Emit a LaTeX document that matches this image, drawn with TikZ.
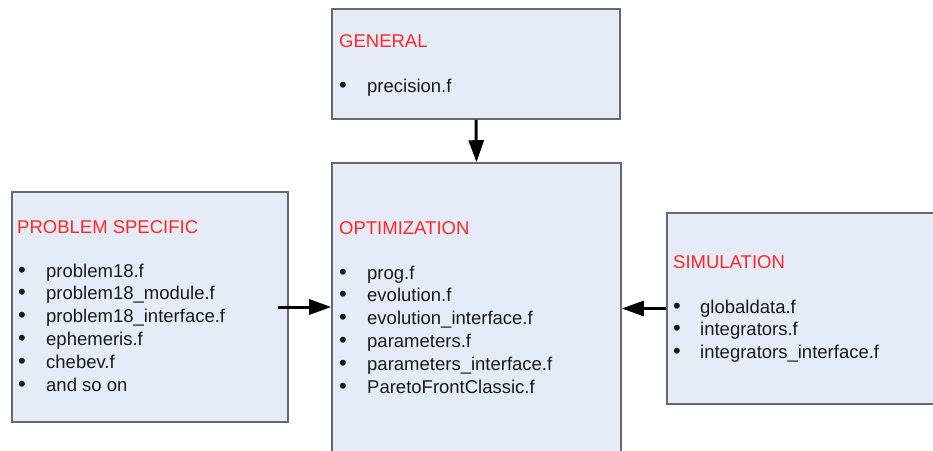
\documentclass[tikz,border=0pt]{standalone}
\usepackage{fontspec}
\setmainfont{Liberation Sans}
\usetikzlibrary{arrows.meta,positioning,calc}
\definecolor{boxfill}{RGB}{230,236,247}
\definecolor{boxline}{RGB}{105,105,105}
\definecolor{titlered}{RGB}{255,40,40}
\definecolor{itemgray}{RGB}{25,25,25}

\begin{document}
\begin{tikzpicture}[
    x=1pt, y=1pt,
    font=\fontsize{18.5}{22}\selectfont,
    box/.style={
      rectangle, draw=boxline, fill=boxfill,
      line width=1.6pt, inner sep=0pt
    },
    title/.style={text=titlered, anchor=base west, inner sep=0pt},
    item/.style={text=itemgray, anchor=base west, inner sep=0pt},
    dot/.style={item, font=\fontsize{22}{22}\selectfont},
    arr/.style={-{Triangle[length=22pt,width=15pt]}, line width=3pt, black},
  ]
    \clip (0,0) rectangle (933,-450);

    % boxes
    \node[box, minimum width=288pt, minimum height=110pt] (gen)  at (476,-64)   {};
    \node[box, minimum width=289pt, minimum height=310pt] (opt)  at (476.5,-318) {};
    \node[box, minimum width=276pt, minimum height=230pt] (prob) at (150,-307)  {};
    \node[box, minimum width=290pt, minimum height=191pt] (sim)  at (812,-308.5) {};

    % titles
    \node[title] (genT)  at (339,-47)  {GENERAL};
    \node[title] (optT)  at (339,-234) {OPTIMIZATION};
    \node[title] (probT) at (17,-233)  {PROBLEM SPECIFIC};
    \node[title] (simT)  at (673,-268) {SIMULATION};

    % file lists
    \node[dot]  (genB) at (339,-92) {\textbullet};
    \node[item] (genI) at (367,-92) {precision.f};

    \foreach \t [count=\i] in {prog.f, evolution.f, evolution\_interface.f,
        parameters.f, parameters\_interface.f, ParetoFrontClassic.f}{
      \node[dot]  (optB\i) at (339,-279-22.8*\i+22.8) {\textbullet};
      \node[item] (optI\i) at (367,-279-22.8*\i+22.8) {\t};
    }
    \foreach \t [count=\i] in {problem18.f, problem18\_module.f, problem18\_interface.f,
        ephemeris.f, chebev.f, and so on}{
      \node[dot]  (probB\i) at (18,-277-22.8*\i+22.8) {\textbullet};
      \node[item] (probI\i) at (46,-277-22.8*\i+22.8) {\t};
    }
    \foreach \t [count=\i] in {globaldata.f, integrators.f, integrators\_interface.f}{
      \node[dot]  (simB\i) at (673,-313-22.8*\i+22.8) {\textbullet};
      \node[item] (simI\i) at (700,-313-22.8*\i+22.8) {\t};
    }

    % connectors
    \draw[arr] (gen.south) -- (opt.north);
    \draw[arr] ([xshift=-11pt]prob.east) -- (prob.east -| opt.west);
    \draw[arr] (sim.west) -- (sim.west -| opt.east);
  \end{tikzpicture}
\end{document}
